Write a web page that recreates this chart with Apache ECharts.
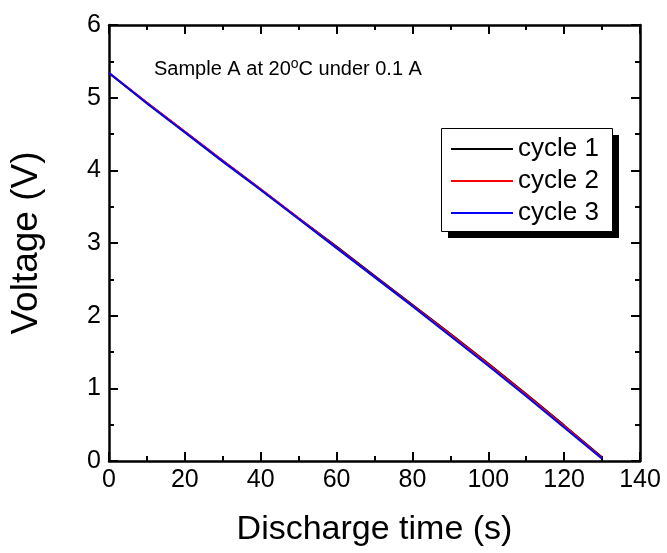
<!DOCTYPE html>
<html>
<head>
<meta charset="utf-8">
<script src="https://cdn.jsdelivr.net/npm/echarts@6/dist/echarts.min.js"></script>
<style>
html,body{margin:0;padding:0;background:#fff;}
#chart{width:667px;height:553px;}
</style>
</head>
<body>
<div id="chart"></div>
<script>
const time = [0, 10, 20, 30, 40, 50, 60, 70, 80, 90, 100, 110, 120, 130];
const cycle1 = [5.34, 4.93, 4.53, 4.13, 3.74, 3.34, 2.95, 2.55, 2.15, 1.75, 1.34, 0.92, 0.49, 0.05];
const cycle2 = [5.34, 4.93, 4.53, 4.13, 3.74, 3.34, 2.94, 2.54, 2.14, 1.74, 1.33, 0.91, 0.48, 0.04];
const cycle3 = [5.34, 4.92, 4.52, 4.12, 3.73, 3.33, 2.93, 2.53, 2.13, 1.72, 1.31, 0.89, 0.46, 0.03];
const seriesNames = ['cycle 1', 'cycle 2', 'cycle 3'];
const seriesColors = ['#000000', '#ff0000', '#0000ff'];
const xTitle = 'Discharge time (s)';
const yTitle = 'Voltage (V)';

const font = 'Arial, "Liberation Sans", sans-serif';
const chart = echarts.init(document.getElementById('chart'));
const values = [cycle1, cycle2, cycle3];

const axisCommon = {
  axisLine: {show: true, onZero: false, lineStyle: {color: '#000', width: 2.5}},
  axisTick: {show: true, inside: true, length: 9, lineStyle: {color: '#000', width: 2}},
  minorTick: {show: true, splitNumber: 2, length: 5, lineStyle: {color: '#000', width: 2}},
  splitLine: {show: false}
};

chart.setOption({
  animation: false,
  backgroundColor: '#fff',
  grid: {left: 108, right: 27, top: 25, bottom: 92, containLabel: false},
  xAxis: [
    Object.assign({
      type: 'value', min: 0, max: 140, interval: 20, position: 'bottom',
      name: xTitle, nameLocation: 'middle', nameGap: 52,
      nameTextStyle: {fontFamily: font, fontSize: 34, color: '#000'},
      axisLabel: {fontFamily: font, fontSize: 25, color: '#000', margin: 7}
    }, axisCommon),
    Object.assign({
      type: 'value', min: 0, max: 140, interval: 20, position: 'top',
      axisLabel: {show: false}
    }, axisCommon)
  ],
  yAxis: [
    Object.assign({
      type: 'value', min: 0, max: 6, interval: 1, position: 'left',
      name: yTitle, nameLocation: 'middle', nameGap: 64, nameRotate: 90,
      nameTextStyle: {fontFamily: font, fontSize: 37, color: '#000'},
      axisLabel: {fontFamily: font, fontSize: 25, color: '#000', margin: 8}
    }, axisCommon),
    Object.assign({
      type: 'value', min: 0, max: 6, interval: 1, position: 'right',
      axisLabel: {show: false}
    }, axisCommon)
  ],
  legend: {
    orient: 'vertical',
    left: 451, top: 136,
    data: seriesNames,
    icon: 'rect',
    itemWidth: 62, itemHeight: 2,
    itemGap: 6,
    padding: 0,
    z: 10,
    textStyle: {fontFamily: font, fontSize: 26, lineHeight: 26, color: '#000'}
  },
  graphic: [
    {type: 'rect', left: 448, top: 135, z: 5, shape: {width: 171, height: 103}, style: {fill: '#000'}},
    {type: 'rect', left: 441, top: 128, z: 6, shape: {width: 171, height: 103}, style: {fill: '#fff', stroke: '#000', lineWidth: 1}},
    {
      type: 'text', left: 154, top: 57, z: 6,
      style: {
        text: 'Sample A at 20{sup|o}C under 0.1 A',
        font: '20px ' + font, fill: '#000',
        rich: {sup: {fontSize: 14, fontFamily: font, verticalAlign: 'top', padding: [0, 0, 10, 0], fill: '#000'}}
      }
    }
  ],
  series: values.map((v, i) => ({
    name: seriesNames[i], type: 'line', xAxisIndex: 0, yAxisIndex: 0,
    data: time.map((t, j) => [t, v[j]]),
    showSymbol: false, symbol: 'none',
    lineStyle: {color: seriesColors[i], width: 2},
    itemStyle: {color: seriesColors[i]},
    z: 2 + i
  }))
});
</script>
</body>
</html>
